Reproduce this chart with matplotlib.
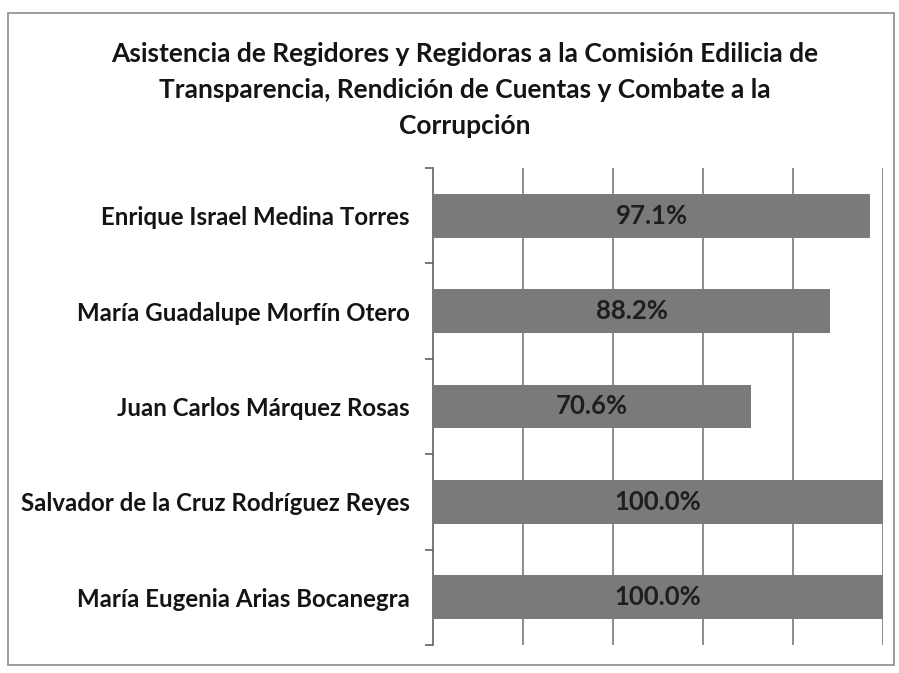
import matplotlib.pyplot as plt
from matplotlib.patches import Rectangle

names = [
    "Enrique Israel Medina Torres",
    "María Guadalupe Morfín Otero",
    "Juan Carlos Márquez Rosas",
    "Salvador de la Cruz Rodríguez Reyes",
    "María Eugenia Arias Bocanegra",
]
asistencia = [97.1, 88.2, 70.6, 100.0, 100.0]
titulo = ("Asistencia de Regidores y Regidoras a la Comisión Edilicia de\n"
          "Transparencia, Rendición de Cuentas y Combate a la\n"
          "Corrupción")

plt.rcParams['font.family'] = ['Lato', 'DejaVu Sans']

fig = plt.figure(figsize=(8.99, 6.73), dpi=100)
ax = fig.add_axes([433 / 899, 1 - 645 / 673, 450 / 899, 477 / 673])

# marco exterior
fig.patches.append(Rectangle((8 / 899, 8 / 673), 886 / 899, 652 / 673,
                             transform=fig.transFigure, fill=False,
                             edgecolor='#8c8c8c', linewidth=1.2))

y = list(range(len(names)))
ax.barh(y, asistencia, height=0.46, color='#7a7a7a', zorder=3)
for yi, v in zip(y, asistencia):
    ax.text(v / 2, yi, f"{v:.1f}%", ha='center', va='center',
            fontsize=18.5, fontweight='bold', color='#1e1e1e', zorder=4)

ax.set_xlim(0, 100)
ax.set_ylim(len(names) - 0.5, -0.5)
ax.set_xticks([20, 40, 60, 80, 100])
ax.tick_params(axis='x', length=0, labelbottom=False)
ax.grid(axis='x', color='#6e6e6e', linewidth=1.1, zorder=0)

ax.set_yticks(y)
ax.set_yticklabels(names, fontsize=17.3, fontweight='bold', color='#141414')
ax.set_yticks([i - 0.5 for i in range(len(names) + 1)], minor=True)
ax.tick_params(axis='y', which='major', length=0, pad=17)
ax.tick_params(axis='y', which='minor', length=6, width=1.1, color='#555555')

for s in ['top', 'right', 'bottom']:
    ax.spines[s].set_visible(False)
ax.spines['left'].set_color('#555555')
ax.spines['left'].set_linewidth(1.1)

fig.text(465 / 899, 1 - 90 / 673, titulo, ha='center', va='center', fontsize=19,
         fontweight='bold', color='#141414', linespacing=1.58)

fig.savefig('out.png', dpi=100)
